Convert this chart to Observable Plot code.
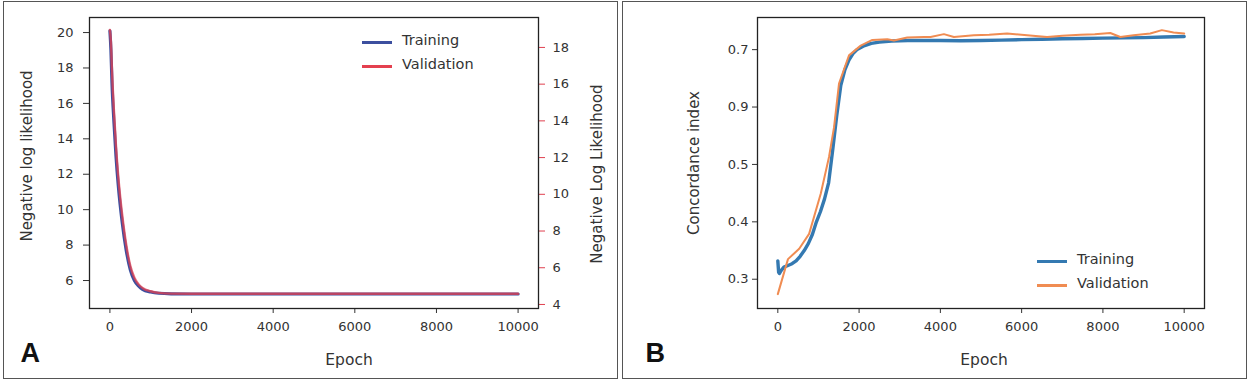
<!DOCTYPE html>
<html>
<head>
<meta charset="utf-8">
<script src="https://cdn.jsdelivr.net/npm/d3@7"></script>
<script src="https://cdn.jsdelivr.net/npm/@observablehq/plot@0.6"></script>
<style>
  html, body { margin: 0; padding: 0; background: #fff; }
  #root { position: relative; width: 1248px; height: 381px; font-family: "DejaVu Sans", sans-serif; color: #333; overflow: hidden; }
  .panel { position: absolute; border: 1.5px solid #555; box-sizing: border-box; }
  .layer { position: absolute; top: 0; }
  .legend { position: absolute; font-size: 14.5px; color: #333; }
  .legend .item { position: absolute; white-space: nowrap; }
  .legend .sw { position: absolute; height: 3px; }
</style>
</head>
<body>
<div id="root"></div>
<script>
// ---------- Panel A data (Negative log likelihood) ----------
const epochTrainA = [0, 25, 50, 100, 150, 200, 250, 300, 400, 500, 600, 700, 800, 1000, 1200, 1500, 2000, 4000, 6000, 8000, 10000];
const nllTrainA   = [20.1, 19.0, 17.2, 14.9, 13.0, 11.5, 10.3, 9.3, 7.7, 6.6, 6.0, 5.7, 5.5, 5.35, 5.28, 5.25, 5.24, 5.24, 5.24, 5.24, 5.24];
const epochValA   = [0, 25, 50, 100, 150, 200, 250, 300, 400, 500, 600, 700, 800, 1000, 1200, 1500, 2000, 4000, 6000, 8000, 10000];
const nllValA     = [18.95, 18.3, 16.8, 14.5, 12.6, 11.1, 9.9, 8.9, 7.25, 6.1, 5.45, 5.1, 4.9, 4.72, 4.63, 4.59, 4.58, 4.58, 4.58, 4.58, 4.58];
const xTicks   = [0, 2000, 4000, 6000, 8000, 10000];
const yTicksA  = [6, 8, 10, 12, 14, 16, 18, 20];
const yTicksA2 = [4, 6, 8, 10, 12, 14, 16, 18];

// ---------- Panel B data (Concordance index) ----------
const epochTrainB = [0, 20, 40, 80, 150, 250, 350, 450, 550, 650, 750, 850, 950, 1050, 1150, 1250, 1350, 1450, 1550, 1650, 1750, 1850, 1950, 2100, 2300, 2500, 2800, 3200, 3600, 4000, 4500, 5000, 5500, 6000, 6500, 7000, 7500, 8000, 8500, 9000, 9500, 10000];
const ciTrainB    = [0.332, 0.312, 0.310, 0.315, 0.321, 0.324, 0.327, 0.332, 0.340, 0.350, 0.362, 0.378, 0.400, 0.418, 0.440, 0.468, 0.525, 0.585, 0.638, 0.665, 0.682, 0.693, 0.700, 0.706, 0.711, 0.713, 0.715, 0.716, 0.716, 0.716, 0.7155, 0.716, 0.7165, 0.7175, 0.718, 0.719, 0.7195, 0.720, 0.7205, 0.721, 0.722, 0.723];
const epochValB   = [0, 250, 526, 770, 1056, 1260, 1384, 1506, 1752, 2040, 2327, 2695, 2858, 3185, 3600, 3759, 4087, 4333, 4824, 5200, 5643, 6134, 6626, 7000, 7445, 7800, 8182, 8428, 8755, 9165, 9451, 9738, 10000];
const ciValB      = [0.274, 0.335, 0.353, 0.379, 0.449, 0.513, 0.565, 0.641, 0.690, 0.707, 0.717, 0.718, 0.716, 0.721, 0.722, 0.722, 0.727, 0.722, 0.725, 0.726, 0.728, 0.725, 0.722, 0.724, 0.726, 0.727, 0.729, 0.722, 0.725, 0.728, 0.734, 0.730, 0.728];
const yTicksB      = [0.3, 0.4, 0.5, 0.6, 0.7];
const yTickLabelsB = ["0.3", "0.4", "0.5", "0.9", "0.7"];

const seriesNames = ["Training", "Validation"];
const colorsA = ["#3c4f9f", "#e4404f"];
const colorsB = ["#3479b1", "#f08c52"];

const trainA = epochTrainA.map((e, i) => ({epoch: e, value: nllTrainA[i]}));
const valA   = epochValA.map((e, i) => ({epoch: e, value: nllValA[i]}));
const trainB = epochTrainB.map((e, i) => ({epoch: e, value: ciTrainB[i]}));
const valB   = epochValB.map((e, i) => ({epoch: e, value: ciValB[i]}));

const root = document.getElementById("root");
const font = {fontFamily: "DejaVu Sans, sans-serif", fontSize: "13px", color: "#333", background: "transparent", overflow: "visible"};

function addEl(parent, html, style) {
  const d = document.createElement("div");
  if (html) d.innerHTML = html;
  Object.assign(d.style, style);
  parent.appendChild(d);
  return d;
}

// panel borders
addEl(root, "", {left: "3px", top: "1px", width: "615px", height: "378px"}).className = "panel";
addEl(root, "", {left: "622px", top: "1px", width: "625px", height: "378px"}).className = "panel";

// ---------- Panel A ----------
const plotA1 = Plot.plot({
  width: 620, height: 381,
  marginLeft: 89, marginRight: 82, marginTop: 17, marginBottom: 73,
  style: font,
  x: {domain: [-500, 10500]},
  y: {domain: [4.42, 20.85]},
  marks: [
    Plot.axisX({ticks: xTicks, tickSize: 5, tickPadding: 8, label: null, tickFormat: d => String(d)}),
    Plot.axisY({ticks: yTicksA, tickSize: 6, tickPadding: 10, label: null}),
    Plot.line(trainA, {x: "epoch", y: "value", stroke: colorsA[0], strokeWidth: 3.2, curve: "monotone-x"}),
    Plot.text(["Negative log likelihood"], {frameAnchor: "left", textAnchor: "middle", lineAnchor: "middle", text: d => d, rotate: -90, dx: -62, dy: -7, fontSize: 15, fill: "#333"}),
    Plot.text(["Epoch"], {frameAnchor: "bottom", text: d => d, dx: 35, dy: 56, fontSize: 15.5, fill: "#333"}),
    Plot.text(["A"], {frameAnchor: "bottom-left", text: d => d, dx: -69, dy: 53, fontSize: 27, fontWeight: "bold", fill: "#111", fontFamily: "Liberation Sans, Arial, sans-serif"})
  ]
});
plotA1.classList.add("layer");
plotA1.style.left = "0px";
root.appendChild(plotA1);

const plotA2 = Plot.plot({
  width: 620, height: 381,
  marginLeft: 89, marginRight: 82, marginTop: 17, marginBottom: 73,
  style: font,
  x: {domain: [-500, 10500], axis: null},
  y: {domain: [3.78, 19.63]},
  marks: [
    Plot.axisY({anchor: "right", ticks: yTicksA2, tickSize: 6, tickPadding: 8, label: null, stroke: "#e0404f", fill: "#333"}),
    Plot.line(valA, {x: "epoch", y: "value", stroke: colorsA[1], strokeWidth: 2.4, strokeOpacity: 0.75, curve: "monotone-x"}),
    Plot.frame({stroke: "#222", strokeWidth: 1.3}),
    Plot.text(["Negative Log Likelihood"], {frameAnchor: "right", textAnchor: "middle", lineAnchor: "middle", text: d => d, rotate: -90, dx: 59, dy: 11, fontSize: 15, fill: "#333"})
  ]
});
plotA2.classList.add("layer");
plotA2.style.left = "0px";
root.appendChild(plotA2);

// ---------- Panel B ----------
const plotB = Plot.plot({
  width: 628, height: 381,
  marginLeft: 137, marginRight: 44, marginTop: 17, marginBottom: 73,
  style: font,
  x: {domain: [-500, 10500]},
  y: {domain: [0.249, 0.756]},
  marks: [
    Plot.axisX({ticks: xTicks, tickSize: 5, tickPadding: 8, label: null, tickFormat: d => String(d)}),
    Plot.axisY({ticks: yTicksB, tickSize: 5, tickPadding: 4, label: null, tickFormat: d => yTickLabelsB[yTicksB.findIndex(t => Math.abs(t - d) < 1e-9)]}),
    Plot.line(trainB, {x: "epoch", y: "value", stroke: colorsB[0], strokeWidth: 3.4}),
    Plot.line(valB, {x: "epoch", y: "value", stroke: colorsB[1], strokeWidth: 2}),
    Plot.frame({stroke: "#222", strokeWidth: 1.3}),
    Plot.text(["Concordance index"], {frameAnchor: "left", textAnchor: "middle", lineAnchor: "middle", text: d => d, rotate: -90, dx: -63, dy: 0, fontSize: 15, fill: "#333"}),
    Plot.text(["Epoch"], {frameAnchor: "bottom", text: d => d, dx: 3, dy: 56, fontSize: 15.5, fill: "#333"}),
    Plot.text(["B"], {frameAnchor: "bottom-left", text: d => d, dx: -112, dy: 53, fontSize: 27, fontWeight: "bold", fill: "#111", fontFamily: "Liberation Sans, Arial, sans-serif"})
  ]
});
plotB.classList.add("layer");
plotB.style.left = "620px";
root.appendChild(plotB);

// ---------- Legends ----------
function legend(left, top, colors) {
  const lg = addEl(root, "", {left: left + "px", top: top + "px"});
  lg.className = "legend";
  seriesNames.forEach((name, i) => {
    const y = i * 24;
    addEl(lg, "", {left: "0px", top: (y - 1.5) + "px", width: "30px", background: colors[i]}).className = "sw";
    addEl(lg, name, {left: "40px", top: (y - 10) + "px"}).className = "item";
  });
}
legend(362, 42, colorsA);
legend(1037, 261, colorsB);
</script>
</body>
</html>
